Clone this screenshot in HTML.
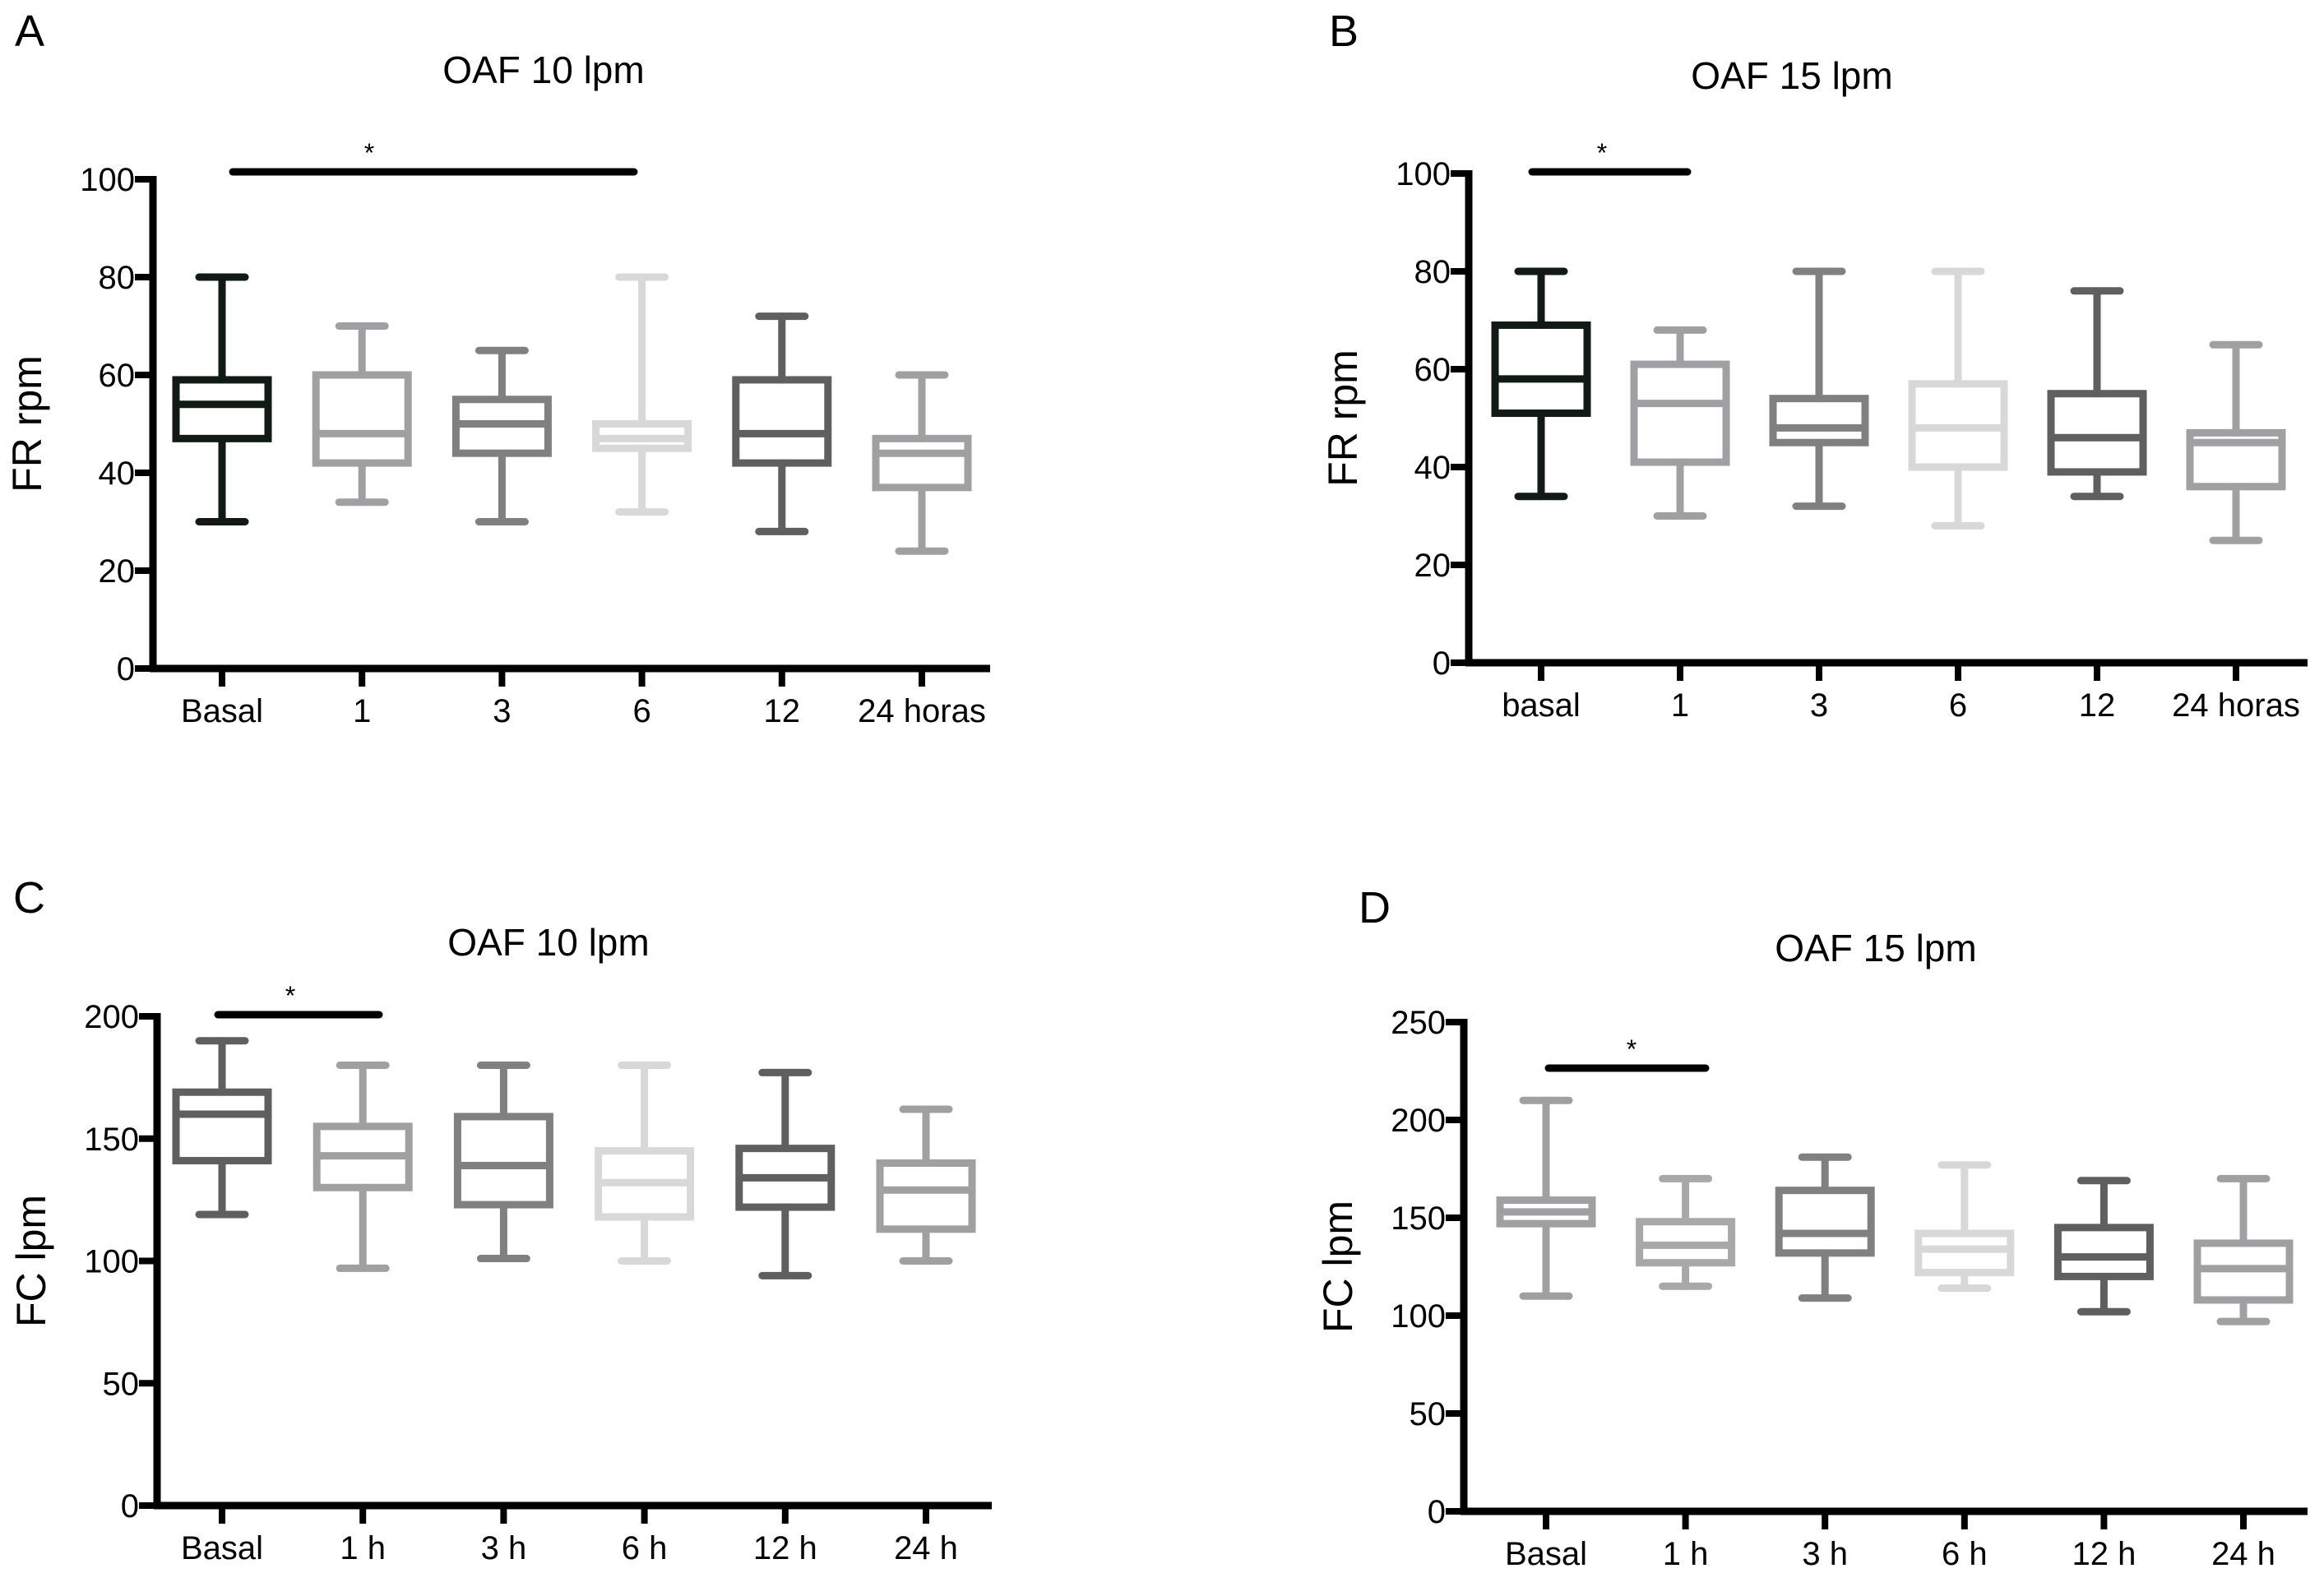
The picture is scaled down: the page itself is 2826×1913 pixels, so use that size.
<!DOCTYPE html>
<html><head><meta charset="utf-8"><style>
body{margin:0;background:#fff}
svg{display:block;font-family:"Liberation Sans",sans-serif}
</style></head><body>
<svg id="fig" width="2826" height="1913" viewBox="0 0 2826 1913"></svg>
<script>
const catsA=["Basal","1","3","6","12","24 horas"];
const statsA=[[30,47,54,59,80],[34,42,48,60,70],[30,44,50,55,65],[32,45,47,50,80],[28,42,48,59,72],[24,37,44,47,60]];
const catsB=["basal","1","3","6","12","24 horas"];
const statsB=[[34,51,58,69,80],[30,41,53,61,68],[32,45,48,54,80],[28,40,48,57,80],[34,39,46,55,76],[25,36,45,47,65]];
const catsC=["Basal","1 h","3 h","6 h","12 h","24 h"];
const statsC=[[119,141,160,169,190],[97,130,143,155,180],[101,123,139,159,180],[100,118,132,145,180],[94,122,134,146,177],[100,113,129,140,162]];
const catsD=["Basal","1 h","3 h","6 h","12 h","24 h"];
const statsD=[[110,147,153,159,210],[115,127,136,148,170],[109,132,142,164,181],[114,122,134,142,177],[102,120,130,145,169],[97,108,124,137,170]];
const ticksFR=[0,20,40,60,80,100];
const ticksC=[0,50,100,150,200];
const ticksD=[0,50,100,150,200,250];
const colsAB=["#121a15","#a0a0a3","#808080","#d8d8d8","#5f5f5f","#a0a0a3"];
const colsC=["#5f5f5f","#a0a0a3","#808080","#d8d8d8","#5f5f5f","#a0a0a3"];
const colsD=["#a0a0a3","#a8a8a8","#808080","#d8d8d8","#5f5f5f","#a0a0a3"];
const NS="http://www.w3.org/2000/svg";
const svg=document.getElementById("fig");
function mk(tag,at,par,txt){const e=document.createElementNS(NS,tag);for(const k in at)e.setAttribute(k,at[k]);if(txt!==undefined)e.textContent=txt;(par||svg).appendChild(e);return e;}
function panel(p){
 const g=mk("g",{});
 
 
 const ymax=p.ticks[p.ticks.length-1];
 const y=v=>p.y0-(p.y0-p.yt)*v/ymax;
 const x=i=>p.cx0+(p.cx1-p.cx0)*i/(p.cats.length-1);
 const L=mk("text",{x:p.lx,y:p.ly,"font-size":54},g,p.id);
 
 const T=mk("text",{x:p.tx,y:p.ty,"font-size":46,"text-anchor":"middle"},g,p.title);
 
 const Y=mk("text",{x:0,y:0,"font-size":50,"text-anchor":"middle",transform:`translate(${p.ax-136},${(p.y0+p.yt)/2}) rotate(-90)`},g,p.ytitle);
 
 const ya=mk("line",{x1:p.ax,x2:p.ax,y1:p.yt-4,y2:p.y0+4,stroke:"#000","stroke-width":9},g);
 
 const xa=mk("line",{x1:p.ax-4,x2:p.xend,y1:p.y0,y2:p.y0,stroke:"#000","stroke-width":9},g);
 
 p.ticks.forEach(t=>{
  const tk=mk("line",{x1:p.ax-22,x2:p.ax,y1:y(t),y2:y(t),stroke:"#000","stroke-width":8},g);
  
  const tl=mk("text",{x:p.ax-22,y:y(t)+14,"font-size":40,"text-anchor":"end"},g,t);
  
 });
 p.cats.forEach((c,i)=>{
  const tk=mk("line",{x1:x(i),x2:x(i),y1:p.y0,y2:p.y0+22,stroke:"#000","stroke-width":8},g);
  
  const tl=mk("text",{x:x(i),y:p.y0+65,"font-size":40,"text-anchor":"middle"},g,c);
  
  const s=p.stats[i],col=p.cols[i],hw=56,cw=28;
  const bg=mk("g",{stroke:col,"stroke-width":9,fill:"none","stroke-linecap":"round"},g);
  
  
  mk("line",{x1:x(i),x2:x(i),y1:y(s[0]),y2:y(s[1])},bg);
  mk("line",{x1:x(i),x2:x(i),y1:y(s[3]),y2:y(s[4])},bg);
  mk("line",{x1:x(i)-cw,x2:x(i)+cw,y1:y(s[0]),y2:y(s[0])},bg);
  mk("line",{x1:x(i)-cw,x2:x(i)+cw,y1:y(s[4]),y2:y(s[4])},bg);
  mk("rect",{x:x(i)-hw,y:y(s[3]),width:2*hw,height:y(s[1])-y(s[3]),"stroke-linecap":"butt"},bg);
  mk("line",{x1:x(i)-hw,x2:x(i)+hw,y1:y(s[2]),y2:y(s[2]),"stroke-linecap":"butt"},bg);
 });
 const sb=mk("line",{x1:p.sig[0],x2:p.sig[1],y1:p.sig[2],y2:p.sig[2],stroke:"#000","stroke-width":9,"stroke-linecap":"round"},g);
 
 const st=mk("text",{x:p.sig[3],y:p.sig[2]-12,"font-size":32,"text-anchor":"middle"},g,"*");
 
}
panel({id:"A",title:"OAF 10 lpm",ytitle:"FR rpm",cats:catsA,stats:statsA,ticks:ticksFR,cols:colsAB,ax:186,yt:218,y0:813,xend:1204,cx0:270,cx1:1121,lx:18,ly:56,tx:661,ty:101,sig:[283,771,209,449]});
panel({id:"B",title:"OAF 15 lpm",ytitle:"FR rpm",cats:catsB,stats:statsB,ticks:ticksFR,cols:colsAB,ax:1786,yt:211,y0:806,xend:2806,cx0:1874,cx1:2719,lx:1616,ly:56,tx:2179,ty:108,sig:[1863,2052,209,1948]});
panel({id:"C",title:"OAF 10 lpm",ytitle:"FC lpm",cats:catsC,stats:statsC,ticks:ticksC,cols:colsC,ax:191,yt:1236,y0:1831,xend:1206,cx0:270,cx1:1126,lx:16,ly:1110,tx:667,ty:1162,sig:[265,461,1234,353]});
panel({id:"D",title:"OAF 15 lpm",ytitle:"FC lpm",cats:catsD,stats:statsD,ticks:ticksD,cols:colsD,ax:1780,yt:1243,y0:1838,xend:2806,cx0:1880,cx1:2728,lx:1652,ly:1122,tx:2281,ty:1169,sig:[1883,2074,1299,1984]});
</script>
</body></html>
